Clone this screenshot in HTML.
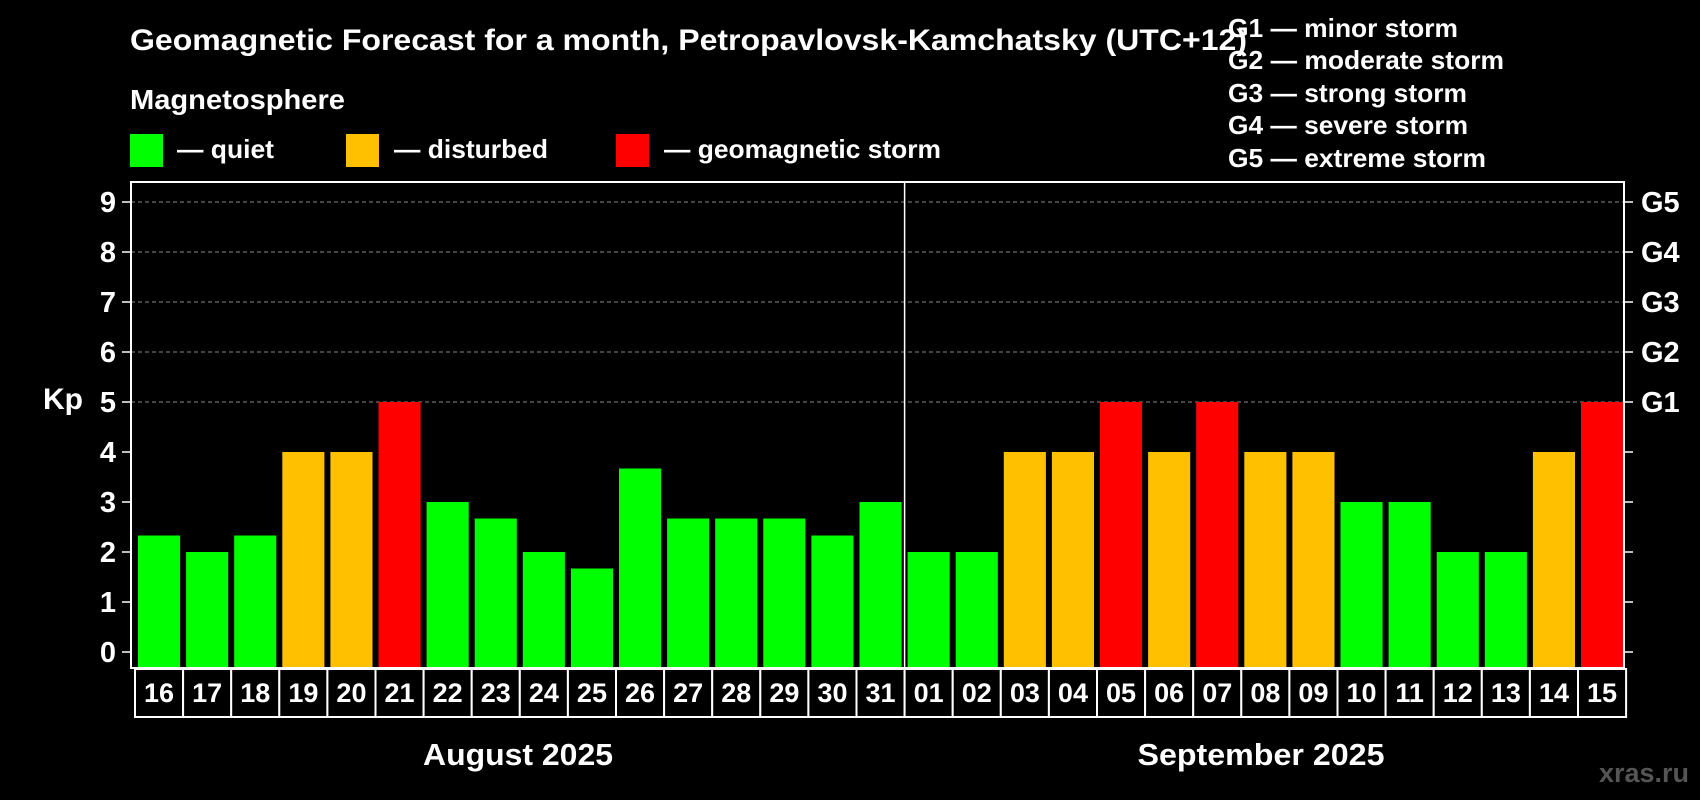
<!DOCTYPE html>
<html><head><meta charset="utf-8"><style>
html,body{margin:0;padding:0;background:#000;}
svg{display:block;font-family:"Liberation Sans",Arial,sans-serif;font-weight:bold;}
</style></head><body>
<svg id="chart" width="1700" height="800" viewBox="0 0 1700 800" xmlns="http://www.w3.org/2000/svg">
<rect x="0" y="0" width="1700" height="800" fill="#000"/>
<text x="130" y="50" fill="#fff" font-size="30" textLength="1117" lengthAdjust="spacingAndGlyphs">Geomagnetic Forecast for a month, Petropavlovsk-Kamchatsky (UTC+12)</text>
<text x="130" y="109" fill="#fff" font-size="28" textLength="215" lengthAdjust="spacingAndGlyphs">Magnetosphere</text>
<g><rect x="130" y="134" width="33" height="33" fill="#00ff00"/><text x="177" y="158" fill="#fff" font-size="26" textLength="97" lengthAdjust="spacingAndGlyphs">— quiet</text></g>
<g><rect x="346" y="134" width="33" height="33" fill="#ffc000"/><text x="394" y="158" fill="#fff" font-size="26" textLength="154" lengthAdjust="spacingAndGlyphs">— disturbed</text></g>
<g><rect x="616" y="134" width="33" height="33" fill="#ff0000"/><text x="664" y="158" fill="#fff" font-size="26" textLength="277" lengthAdjust="spacingAndGlyphs">— geomagnetic storm</text></g>
<g fill="#fff" font-size="26">
<text x="1228" y="37" textLength="230" lengthAdjust="spacingAndGlyphs">G1 — minor storm</text>
<text x="1228" y="69" textLength="276" lengthAdjust="spacingAndGlyphs">G2 — moderate storm</text>
<text x="1228" y="102" textLength="239" lengthAdjust="spacingAndGlyphs">G3 — strong storm</text>
<text x="1228" y="134" textLength="240" lengthAdjust="spacingAndGlyphs">G4 — severe storm</text>
<text x="1228" y="167" textLength="258" lengthAdjust="spacingAndGlyphs">G5 — extreme storm</text>
</g>
<text x="43" y="409" fill="#fff" font-size="30">Kp</text>
<g id="grid"></g>
<g id="bars"></g>
<g id="axes"></g>
<g id="dates"></g>
<text x="518" y="765" fill="#fff" font-size="31" text-anchor="middle" textLength="190" lengthAdjust="spacingAndGlyphs">August 2025</text>
<text x="1261" y="765" fill="#fff" font-size="31" text-anchor="middle" textLength="247" lengthAdjust="spacingAndGlyphs">September 2025</text>
<text x="1689" y="782" fill="#555" font-size="27" text-anchor="end">xras.ru</text>
</svg>
<script>
const days = ["16","17","18","19","20","21","22","23","24","25","26","27","28","29","30","31","01","02","03","04","05","06","07","08","09","10","11","12","13","14","15"];
const kpValues = [2.33,2,2.33,4,4,5,3,2.67,2,1.67,3.67,2.67,2.67,2.67,2.33,3,2,2,4,4,5,4,5,4,4,3,3,2,2,4,5];
const yTicks = [0,1,2,3,4,5,6,7,8,9];
const gLabels = ["G1","G2","G3","G4","G5"];
const NS="http://www.w3.org/2000/svg";
const L=131,R=1624,T=182,B=668,slot0=135,slotW=48.1;
const y=v=>652-(652-202)*v/9;
const x=i=>slot0+i*slotW;
function mk(tag,attrs,parent,txt){const e=document.createElementNS(NS,tag);for(const k in attrs)e.setAttribute(k,attrs[k]);if(txt!==undefined)e.textContent=txt;parent.appendChild(e);return e;}
const grid=document.getElementById('grid'),bars=document.getElementById('bars'),axes=document.getElementById('axes'),dates=document.getElementById('dates');
yTicks.forEach(v=>{
  if(v>=5){const g=mk('line',{x1:L,x2:R,y1:y(v),y2:y(v),stroke:'#888','stroke-width':1,'stroke-dasharray':'4,3'},grid);
  
  }
  const t=mk('line',{x1:L-9,x2:L,y1:y(v),y2:y(v),stroke:'#fff','stroke-width':1.5},axes);
  
  
  const t2=mk('line',{x1:R,x2:R+9,y1:y(v),y2:y(v),stroke:'#fff','stroke-width':1.5},axes);
  
  
  const lb=mk('text',{x:116,y:y(v)+10,fill:'#fff','font-size':29,'text-anchor':'end'},axes,String(v));
  
  
  if(v>=5){const gl=mk('text',{x:1641,y:y(v)+10,fill:'#fff','font-size':29},axes,gLabels[v-5]);
  
  }
});
kpValues.forEach((v,i)=>{
  const c=v>=5?'#ff0000':(v>=4?'#ffc000':'#00ff00');
  const b=mk('rect',{x:x(i)+3,y:y(v),width:slotW-6,height:B-y(v),fill:c},bars);
  
  
  const bx=mk('rect',{x:x(i),y:669,width:slotW,height:48,fill:'#000',stroke:'#fff','stroke-width':2},dates);
  
  
  const dt=mk('text',{x:x(i)+slotW/2,y:702,fill:'#fff','font-size':27,'text-anchor':'middle'},dates,days[i]);
  
  
});
const frame=mk('rect',{x:L,y:T,width:R-L,height:B-T,fill:'none',stroke:'#fff','stroke-width':2},axes);


const sep=mk('line',{x1:x(16),x2:x(16),y1:T,y2:B,stroke:'#fff','stroke-width':1.5},axes);


</script>
</body></html>
